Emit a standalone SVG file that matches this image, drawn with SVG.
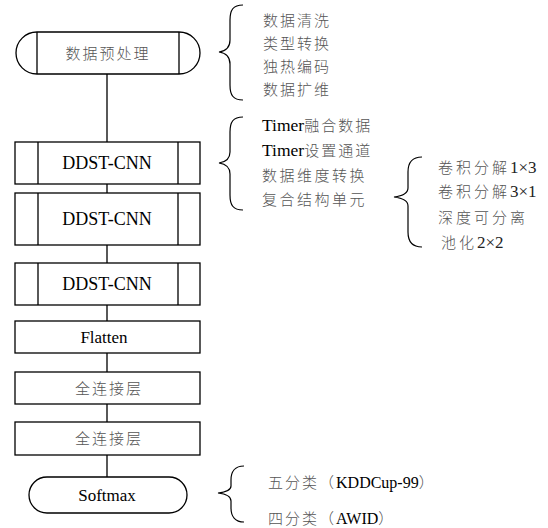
<svg xmlns="http://www.w3.org/2000/svg" width="548" height="528" viewBox="0 0 548 528">
<style>
.box{fill:#fff;stroke:#000;stroke-width:1.3}
.ln{fill:none;stroke:#000;stroke-width:1.3}
.br{fill:none;stroke:#000;stroke-width:1.2}
.cjk{font-family:"Noto Sans CJK SC",sans-serif;font-size:15px;fill:#555;letter-spacing:2px;font-weight:300}
.lat{font-family:"Liberation Serif","Times New Roman",Tinos,"DejaVu Serif",serif;font-size:18px;fill:#000;font-weight:normal}
.ctr{text-anchor:middle}
</style>
<rect width="548" height="528" fill="#fff"/>
<g id="connectors">
<path class="ln" d="M107,74V142M107,184V193M107,245V263M107,305V321M107,353V372M107,404V422M107,455V477"/>
</g>
<g id="n1">
<path class="box" d="M37,32H179A21,21 0 0 1 179,74H37A21,21 0 0 1 37,32Z"/>
<path class="ln" d="M37,32V74M179,32V74"/>
<text class="cjk ctr" x="108" y="58.5">数据预处理</text>
</g>
<g id="n2">
<rect class="box" x="15" y="142" width="185" height="42"/>
<path class="ln" d="M38,142V184M178,142V184"/>
<text class="lat ctr" x="107" y="169" font-family="Liberation Serif, serif">DDST-CNN</text>
</g>
<g id="n3">
<rect class="box" x="15" y="193" width="185" height="52"/>
<path class="ln" d="M38,193V245M178,193V245"/>
<text class="lat ctr" x="107" y="225" font-family="Liberation Serif, serif">DDST-CNN</text>
</g>
<g id="n4">
<rect class="box" x="15" y="263" width="185" height="42"/>
<path class="ln" d="M38,263V305M178,263V305"/>
<text class="lat ctr" x="107" y="290" font-family="Liberation Serif, serif">DDST-CNN</text>
</g>
<g id="n5">
<rect class="box" x="15" y="321" width="185" height="32"/>
<text class="lat ctr" x="104" y="343" style="font-size:17px">Flatten</text>
</g>
<g id="n6">
<rect class="box" x="15" y="372" width="185" height="32"/>
<text class="cjk ctr" x="109" y="393.5">全连接层</text>
</g>
<g id="n7">
<rect class="box" x="15" y="422" width="185" height="33"/>
<text class="cjk ctr" x="109" y="444">全连接层</text>
</g>
<g id="n8">
<rect class="box" x="29" y="477" width="158" height="36" rx="18" ry="18"/>
<text class="lat ctr" x="107" y="501" style="font-size:17px">Softmax</text>
</g>
<g id="braces">
<path class="br" d="M243,5C233,5 230,10 230,20V40C230,48 226,51 219,52C226,53 230,56 230,64V85C230,95 233,100 243,100"/>
<path class="br" d="M243,117C233,117 230,122 230,132V152C230,159 226,162 219,163C226,164 230,167 230,174V195C230,205 233,210 243,210"/>
<path class="br" d="M422,157C412,157 408,162 408,172V188C408,194 402,196 394,197C402,198 408,200 408,206V232C408,242 412,247 422,247"/>
<path class="br" d="M244,466C235,466 231,472 231,480V486C231,490 227,492 218,493C227,494 231,497 231,501V508C231,516 235,522 244,522"/>
</g>
<g id="list1">
<text class="cjk" x="263" y="26">数据清洗</text>
<text class="cjk" x="263" y="49">类型转换</text>
<text class="cjk" x="263" y="72">独热编码</text>
<text class="cjk" x="263" y="95">数据扩维</text>
</g>
<g id="list2">
<text x="262" y="130.5"><tspan class="lat" style="font-size:17.5px">Timer</tspan><tspan class="cjk">融合数据</tspan></text>
<text x="262" y="155.5"><tspan class="lat" style="font-size:17.5px">Timer</tspan><tspan class="cjk">设置通道</tspan></text>
<text class="cjk" x="262" y="180.5" style="letter-spacing:2.5px">数据维度转换</text>
<text class="cjk" x="262" y="204.5" style="letter-spacing:2.5px">复合结构单元</text>
</g>
<g id="list3">
<text x="438" y="172.5"><tspan class="cjk" style="letter-spacing:3px">卷积分解</tspan><tspan class="lat" style="font-size:17px;fill:#222">1×3</tspan></text>
<text x="438" y="196.5"><tspan class="cjk" style="letter-spacing:3px">卷积分解</tspan><tspan class="lat" style="font-size:17px;fill:#222">3×1</tspan></text>
<text class="cjk" x="438" y="222.5" style="letter-spacing:3px">深度可分离</text>
<text x="441" y="247.5"><tspan class="cjk" style="letter-spacing:3px">池化</tspan><tspan class="lat" style="font-size:17px;fill:#222">2×2</tspan></text>
</g>
<g id="list4">
<text x="268" y="487.5"><tspan class="cjk">五分类（</tspan><tspan class="lat" style="font-size:16px">KDDCup-99</tspan><tspan class="cjk">）</tspan></text>
<text x="268" y="523.5"><tspan class="cjk">四分类（</tspan><tspan class="lat" style="font-size:16px">AWID</tspan><tspan class="cjk">）</tspan></text>
</g>
</svg>
